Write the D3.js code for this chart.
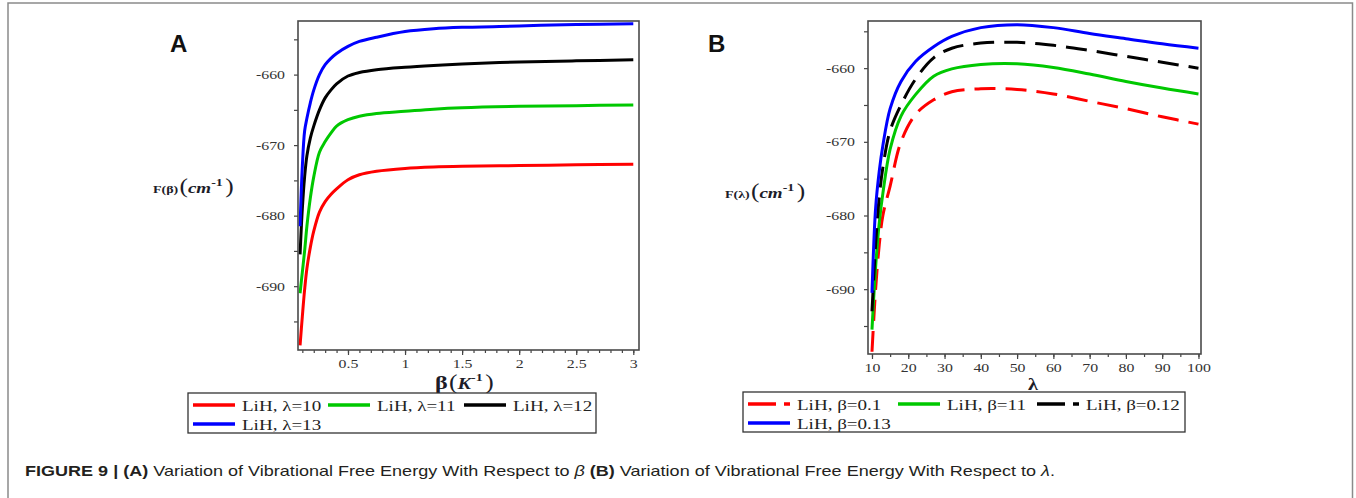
<!DOCTYPE html>
<html>
<head>
<meta charset="utf-8">
<script src="https://cdn.jsdelivr.net/npm/d3@7"></script>
<style>
  body { margin: 0; background: #fff; }
  svg { display: block; }
  .tick text { font-family: "Liberation Serif", serif; fill: #333; }
</style>
</head>
<body>
<svg></svg>
<script>
// ---------- data ----------
// panel A : F(beta) for several lambda
const betaA = [0.08, 0.1, 0.12, 0.14, 0.17, 0.2, 0.25, 0.3, 0.35, 0.4, 0.5, 0.6, 0.75, 1, 1.25, 1.5, 2, 2.5, 3];
const fA_l10 = [-698.4, -694.3, -690.5, -687.5, -684.5, -682.2, -679.5, -678, -677, -676.2, -674.9, -674.2, -673.7, -673.3, -673.1, -673.0, -672.9, -672.8, -672.7];
const fA_l11 = [-691, -688, -685, -681.5, -677.5, -674.5, -671, -669.5, -668.3, -667.3, -666.4, -665.9, -665.5, -665.2, -664.9, -664.7, -664.5, -664.4, -664.3];
const fA_l12 = [-685.5, -679, -674.5, -671.5, -669, -667.3, -665, -663.3, -662.2, -661.3, -660.2, -659.7, -659.3, -658.95, -658.7, -658.5, -658.2, -658.05, -657.9];
const fA_l13 = [-681.5, -673, -668, -666.2, -664, -662.2, -660, -658.6, -657.7, -657, -656, -655.3, -654.7, -653.9, -653.5, -653.3, -653.1, -652.9, -652.8];
const legendA = ['LiH, λ=10', 'LiH, λ=11', 'LiH, λ=12', 'LiH, λ=13'];
const xTicksA = ['0.5', '1', '1.5', '2', '2.5', '3'];

// panel B : F(lambda) for several beta
const lambdaB = [10, 11, 12, 13, 15, 18, 22, 27, 32, 40, 50, 60, 70, 80, 90, 100];
const fB_b01 = [-698.5, -690, -684, -680, -676, -670, -666.3, -664.3, -663.2, -662.8, -662.9, -663.5, -664.5, -665.5, -666.6, -667.6];
const fB_b11 = [-695.5, -687, -681, -677, -671, -666.5, -663.6, -661.1, -660.1, -659.5, -659.4, -659.9, -660.8, -661.8, -662.7, -663.5];
const fB_b012 = [-693, -684, -677.5, -673.5, -668.5, -665, -661.5, -658.6, -657.3, -656.6, -656.5, -656.9, -657.6, -658.4, -659.2, -660];
const fB_b013 = [-690.5, -679, -674, -670.5, -665.5, -661.8, -659.1, -657.1, -655.7, -654.5, -654.1, -654.5, -655.3, -656, -656.7, -657.3];
const legendB = ['LiH, β=0.1', 'LiH, β=11', 'LiH, β=0.12', 'LiH, β=0.13'];
const xTicksB = ['10', '20', '30', '40', '50', '60', '70', '80', '90', '100'];

const yTicks = ['-690', '-680', '-670', '-660'];

const colors = ['#ff0000', '#00c800', '#000000', '#0000ff'];

// the source picture is widened horizontally, so the text is too
const SX = 1.27;

const svg = d3.select('svg').attr('width', 1356).attr('height', 498);

function stretchX(sel, k) {
    sel.each(function() {
        const t = d3.select(this);
        const x0 = +t.attr('x') || 0;
        t.attr('transform', `translate(${x0},0) scale(${k},1) translate(${-x0},0)`);
    });
}

// outer border of the figure (no bottom edge visible)
svg.append('path')
    .attr('d', 'M8,498 V3 H1352.5 V498')
    .attr('fill', 'none')
    .attr('stroke', '#8a8a8a')
    .attr('stroke-width', 1.5);

function drawPanel(p) {
    const g = svg.append('g');

    const x = d3.scaleLinear().domain(p.xDomain).range([p.left, p.right]);
    const y = d3.scaleLinear().domain(p.yDomain).range([p.bottom, p.top]);

    // y axis: minor ticks every 5, labels every 10
    const yAxis = d3.axisLeft(y)
        .tickValues(d3.range(-695, p.yDomain[1], 5))
        .tickSize(4)
        .tickPadding(9)
        .tickFormat(d => yTicks.includes(String(d)) ? String(d) : '');
    g.append('g')
        .attr('transform', `translate(${p.left},0)`)
        .call(yAxis)
        .call(a => a.select('.domain').remove())
        .call(a => a.selectAll('line').attr('stroke', '#444').attr('stroke-width', 1.2))
        .call(a => a.selectAll('text').attr('font-size', 12.5).call(stretchX, SX));

    // x axis: minor + major ticks
    const xMinor = d3.axisBottom(x)
        .tickValues(p.xMinor)
        .tickSize(3)
        .tickFormat('');
    g.append('g')
        .attr('transform', `translate(0,${p.bottom})`)
        .call(xMinor)
        .call(a => a.select('.domain').remove())
        .call(a => a.selectAll('line').attr('stroke', '#444').attr('stroke-width', 1.2));

    const xMajor = d3.axisBottom(x)
        .tickValues(p.xTicks.map(Number))
        .tickSize(5)
        .tickPadding(4)
        .tickFormat(d => String(d));
    g.append('g')
        .attr('transform', `translate(0,${p.bottom})`)
        .call(xMajor)
        .call(a => a.select('.domain').remove())
        .call(a => a.selectAll('line').attr('stroke', '#444').attr('stroke-width', 1.2))
        .call(a => a.selectAll('text').attr('font-size', 12.5).call(stretchX, SX));

    // curves
    const line = d3.line()
        .x(d => x(d[0]))
        .y(d => y(d[1]))
        .curve(d3.curveCatmullRom.alpha(0.5));

    g.append('g').selectAll('path')
        .data(p.series)
        .join('path')
        .attr('d', s => line(p.xs.map((v, i) => [v, s.values[i]])))
        .attr('fill', 'none')
        .attr('stroke', s => s.color)
        .attr('stroke-width', 3)
        .attr('stroke-dasharray', s => s.dashed ? '21,10' : null);

    // frame
    g.append('rect')
        .attr('x', p.left).attr('y', p.top)
        .attr('width', p.right - p.left).attr('height', p.bottom - p.top)
        .attr('fill', 'none')
        .attr('stroke', '#4a4a4a')
        .attr('stroke-width', 1.6);

    // panel letter
    g.append('text')
        .attr('x', p.letterX).attr('y', 52)
        .attr('font-family', '"Liberation Sans", Arial, sans-serif')
        .attr('font-weight', 'bold')
        .attr('font-size', 24)
        .attr('fill', '#111')
        .text(p.letter);

    // y label  F(.)(cm^-1)
    const yl = g.append('text')
        .attr('x', p.yLabelX).attr('y', p.yLabelY)
        .attr('font-family', '"Liberation Serif", serif')
        .attr('font-weight', 'bold')
        .attr('fill', '#1c1c28');
    yl.append('tspan').attr('font-size', 11).text(p.yLabelVar);
    yl.append('tspan').attr('font-size', 20).attr('font-weight', 'normal').attr('dx', 1).text('(');
    yl.append('tspan').attr('font-size', 15).attr('font-style', 'italic').text('cm');
    yl.append('tspan').attr('font-size', 11).attr('dy', -7).text('-1');
    yl.append('tspan').attr('font-size', 20).attr('font-weight', 'normal').attr('dy', 7).attr('dx', 2).text(')');
    stretchX(yl, SX);

    // x label
    const xl = g.append('text')
        .attr('x', p.xLabelX).attr('y', p.xLabelY)
        .attr('font-family', '"Liberation Serif", serif')
        .attr('font-weight', 'bold')
        .attr('fill', '#1c1c28');
    if (p.letter === 'A') {
        xl.append('tspan').attr('font-size', 19).text('β');
        xl.append('tspan').attr('font-size', 20).attr('font-weight', 'normal').attr('dx', 1).text('(');
        xl.append('tspan').attr('font-size', 16).attr('font-style', 'italic').text('K');
        xl.append('tspan').attr('font-size', 11).attr('dy', -8).text('-1');
        xl.append('tspan').attr('font-size', 20).attr('font-weight', 'normal').attr('dy', 8).attr('dx', 2).text(')');
    } else {
        xl.attr('text-anchor', 'middle').attr('font-size', 16).text('λ');
    }
    stretchX(xl, SX);

    // legend
    const lg = g.append('g');
    lg.append('rect')
        .attr('x', p.legend.x).attr('y', p.legend.y)
        .attr('width', p.legend.w).attr('height', p.legend.h)
        .attr('fill', '#fff')
        .attr('stroke', '#333')
        .attr('stroke-width', 1.3);

    const items = lg.selectAll('g.item')
        .data(p.series)
        .join('g')
        .attr('class', 'item')
        .attr('transform', (s, i) => {
            const col = i < 3 ? i : 0;
            const row = i < 3 ? 0 : 1;
            return `translate(${p.legend.x + 5 + p.legend.colX[col]},${p.legend.y + 12 + row * 19})`;
        });
    items.append('line')
        .attr('x1', 0).attr('x2', 42)
        .attr('stroke', s => s.color)
        .attr('stroke-width', 3.5)
        .attr('stroke-dasharray', s => s.dashed ? '28,8' : null);
    items.append('text')
        .attr('x', 49).attr('y', 6)
        .attr('font-family', '"Liberation Serif", serif')
        .attr('font-size', 15)
        .attr('fill', '#222')
        .text(s => s.label)
        .call(stretchX, SX);
}

drawPanel({
    letter: 'A', letterX: 170,
    left: 298, right: 639, top: 21, bottom: 350,
    xDomain: [0.062, 3.05], yDomain: [-699.05, -652.4],
    xs: betaA,
    xTicks: xTicksA,
    xMinor: d3.range(1, 31).map(d => d / 10),
    series: [fA_l10, fA_l11, fA_l12, fA_l13].map((v, i) => ({values: v, color: colors[i], label: legendA[i], dashed: false})),
    yLabelVar: 'F(β)', yLabelX: 153, yLabelY: 193,
    xLabelX: 435, xLabelY: 389,
    legend: {x: 188, y: 393, w: 408, h: 40, colX: [0, 135, 271]}
});

drawPanel({
    letter: 'B', letterX: 708,
    left: 868, right: 1201, top: 21, bottom: 354,
    xDomain: [8.9, 100.7], yDomain: [-698.8, -653.6],
    xs: lambdaB,
    xTicks: xTicksB,
    xMinor: d3.range(10, 101, 5),
    series: [fB_b01, fB_b11, fB_b012, fB_b013].map((v, i) => ({values: v, color: colors[i], label: legendB[i], dashed: i === 0 || i === 2})),
    yLabelVar: 'F(λ)', yLabelX: 725, yLabelY: 198,
    xLabelX: 1033, xLabelY: 390,
    legend: {x: 743, y: 392, w: 442, h: 40, colX: [0, 150, 289]}
});

// caption
const cap = svg.append('text')
    .attr('x', 25).attr('y', 476.5)
    .attr('font-family', '"Liberation Sans", Arial, sans-serif')
    .attr('font-size', 14.5)
    .attr('fill', '#231f20');
cap.append('tspan').attr('font-weight', 'bold').text('FIGURE 9 | (A)');
cap.append('tspan').text(' Variation of Vibrational Free Energy With Respect to ');
cap.append('tspan').attr('font-style', 'italic').text('β');
cap.append('tspan').text(' ');
cap.append('tspan').attr('font-weight', 'bold').text('(B)');
cap.append('tspan').text(' Variation of Vibrational Free Energy With Respect to ');
cap.append('tspan').attr('font-style', 'italic').text('λ');
cap.append('tspan').text('.');
// widen the caption to the measured span of the original (25 → 1055)
stretchX(cap, 1030 / cap.node().getComputedTextLength());
</script>
</body>
</html>
